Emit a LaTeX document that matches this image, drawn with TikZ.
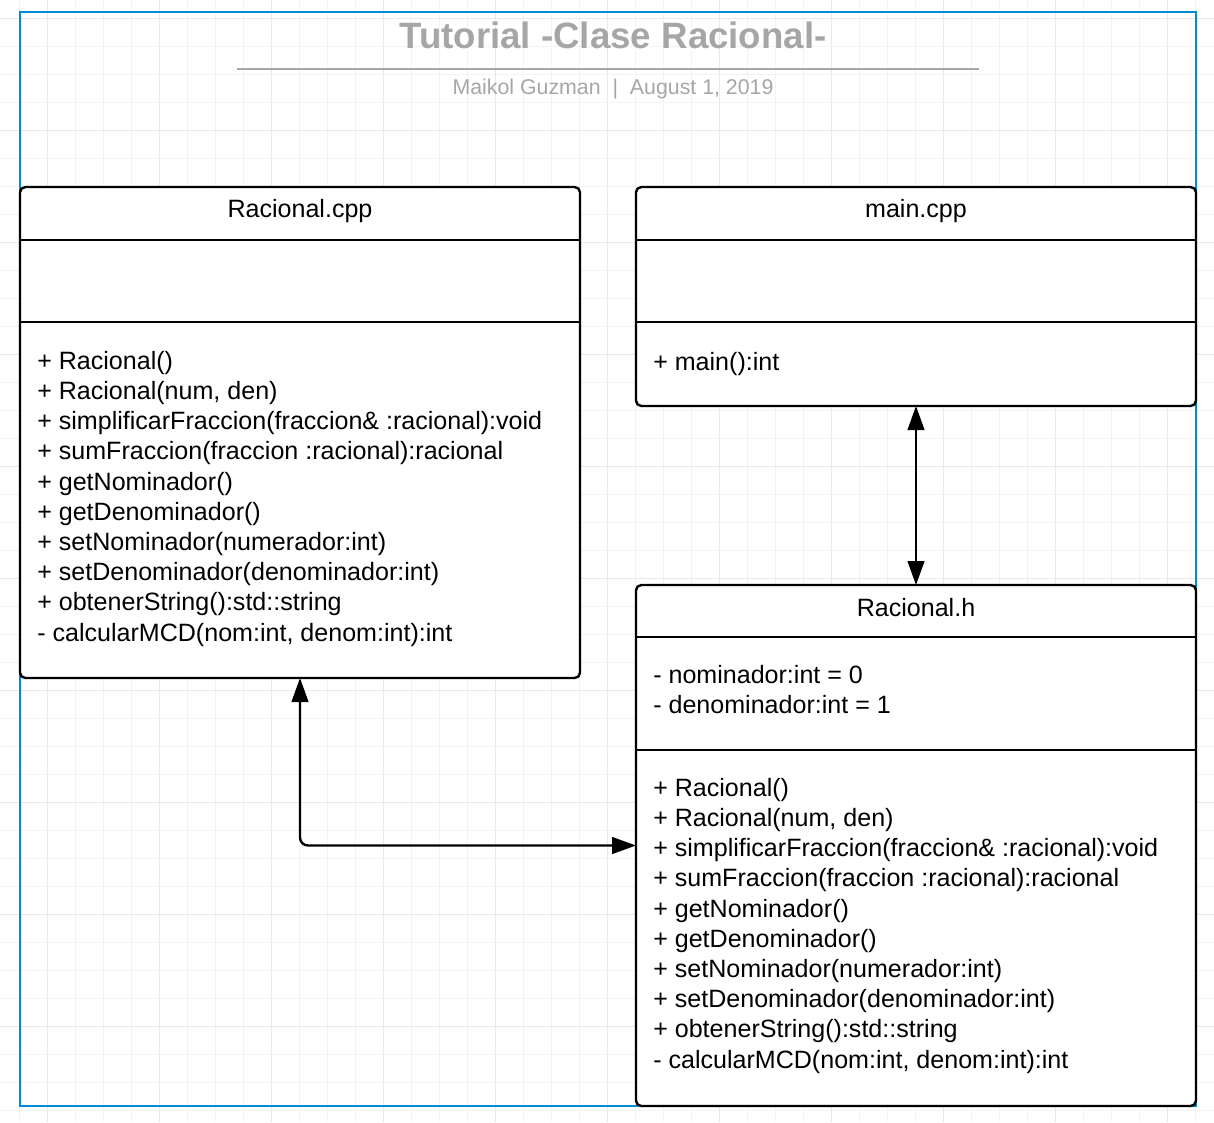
\documentclass[tikz,border=0pt]{standalone}
\usepackage{fontspec}
\setmainfont{Liberation Sans}
\usetikzlibrary{arrows.meta}

\definecolor{framecol}{RGB}{0,140,214}
\definecolor{titlecol}{RGB}{166,166,166}
\definecolor{gridminor}{RGB}{243,243,243}
\definecolor{gridmajor}{RGB}{233,233,233}

\tikzset{
  classbox/.style={draw, fill=white, line width=1.8pt, rounded corners=4pt, inner sep=0pt, outer sep=0pt},
  member/.style={anchor=base west, inner sep=0pt, font=\fontsize{18.8}{21}\selectfont},
  header/.style={anchor=base, inner sep=0pt, font=\fontsize{18.8}{21}\selectfont},
  link/.style={line width=1.8pt, rounded corners=6pt, arrows={Triangle[length=18pt,width=12.5pt]-Triangle[length=18pt,width=12.5pt]}},
}

\begin{document}
\begin{tikzpicture}[x=0.75pt,y=0.75pt,yscale=-1,xscale=1]
\useasboundingbox (0,0) rectangle (1214,1122);

%Grid
\foreach \gx in {0,...,42} \draw[gridminor, line width=0.75pt] (19.7+28*\gx,0) -- (19.7+28*\gx,1122);
\foreach \gy in {0,...,39} \draw[gridminor, line width=0.75pt] (0,18.3+28*\gy) -- (1214,18.3+28*\gy);
\foreach \gx in {0,...,10} \draw[gridmajor, line width=0.75pt] (47.7+112*\gx,0) -- (47.7+112*\gx,1122);
\foreach \gy in {0,...,9} \draw[gridmajor, line width=0.75pt] (0,18.3+112*\gy) -- (1214,18.3+112*\gy);

%Page frame
\draw[framecol, line width=1.5pt] (20,12) rectangle (1196,1106);

% Text Node
\node[anchor=base, inner sep=0pt, text=titlecol, font=\fontsize{27.5}{30}\selectfont\bfseries] (title) at (613,48.3) {Tutorial -Clase Racional-};
%Straight Lines
\draw[titlecol, line width=2pt] (237,69) -- (979,69);
% Text Node
\node[anchor=base, inner sep=0pt, text=titlecol, font=\fontsize{16}{18}\selectfont] (author) at (613,94.5) {Maikol Guzman\ \ |\ \ August 1, 2019};

%Shape: Rectangle
\node[classbox, minimum width=420pt, minimum height=368.25pt] (cpp) at (300,432.5) {};
\draw[line width=1.8pt] (20,240) -- (580,240);
\draw[line width=1.8pt] (20,322) -- (580,322);
\node[header] (cpphead) at (300,217.7) {Racional.cpp};
\foreach \m [count=\i from 0] in {{+ Racional()}, {+ Racional(num, den)}, {+ simplificarFraccion(fraccion\& :racional):void}, {+ sumFraccion(fraccion :racional):racional}, {+ getNominador()}, {+ getDenominador()}, {+ setNominador(numerador:int)}, {+ setDenominador(denominador:int)}, {+ obtenerString():std::string}, {- calcularMCD(nom:int, denom:int):int}}
  \node[member] (cppm\i) at (37,369.3+30.2*\i) {\m};

%Shape: Rectangle
\node[classbox, minimum width=420pt, minimum height=164.25pt] (main) at (916,296.5) {};
\draw[line width=1.8pt] (636,240) -- (1196,240);
\draw[line width=1.8pt] (636,322) -- (1196,322);
\node[header] (mainhead) at (916,217.7) {main.cpp};
\node[member] (mainm0) at (653,370) {+ main():int};

%Shape: Rectangle
\node[classbox, minimum width=420pt, minimum height=390.75pt] (h) at (916,845.5) {};
\draw[line width=1.8pt] (636,637) -- (1196,637);
\draw[line width=1.8pt] (636,750) -- (1196,750);
\node[header] (hhead) at (916,616) {Racional.h};
\node[member] (ha0) at (653,683.3) {- nominador:int = 0};
\node[member] (ha1) at (653,713.5) {- denominador:int = 1};
\foreach \m [count=\i from 0] in {{+ Racional()}, {+ Racional(num, den)}, {+ simplificarFraccion(fraccion\& :racional):void}, {+ sumFraccion(fraccion :racional):racional}, {+ getNominador()}, {+ getDenominador()}, {+ setNominador(numerador:int)}, {+ setDenominador(denominador:int)}, {+ obtenerString():std::string}, {- calcularMCD(nom:int, denom:int):int}}
  \node[member] (hm\i) at (653,796.3+30.2*\i) {\m};

%Connectors
\draw[link] (main.south) -- (h.north);
\draw[link] (cpp.south) |- (h.west);

\end{tikzpicture}
\end{document}
